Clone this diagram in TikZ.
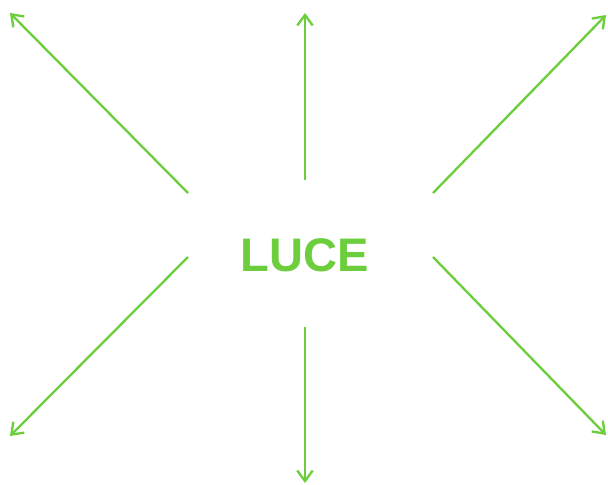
\documentclass[tikz,border=0pt]{standalone}
\usepackage{fontspec}
\setmainfont{Liberation Sans}
\usepackage{xcolor}
\usetikzlibrary{arrows.meta,positioning}
\definecolor{lucegreen}{RGB}{108,206,60}

\begin{document}
\begin{tikzpicture}[
    x=0.5mm,
    y=-0.5mm,
    ray/.style={
        draw=lucegreen,
        line width=3.3pt,
        -{Straight Barb[length=15pt,width=22pt,line width=3.3pt]}
    },
    title/.style={
        text=lucegreen,
        font=\fontsize{67}{78}\selectfont\bfseries,
        inner sep=0pt
    }
]
\useasboundingbox (0,0) rectangle (608,484);

% central word
\node[title] (luce) at (305,255) {LUCE};

% start points round the word
\coordinate (sUL) at (188,193);
\coordinate (sU)  at (305,180);
\coordinate (sUR) at (433,193);
\coordinate (sDL) at (188,257);
\coordinate (sD)  at (305,327);
\coordinate (sDR) at (433,257);

% free ends
\coordinate (eUL) at (10,13);
\coordinate (eU)  at (305,13);
\coordinate (eUR) at (606,15);
\coordinate (eDL) at (10,436);
\coordinate (eD)  at (305,483);
\coordinate (eDR) at (606,435);

\draw[ray] (sUL) -- (eUL);
\draw[ray] (sU) -- (eU);
\draw[ray] (sUR) -- (eUR);
\draw[ray] (sDL) -- (eDL);
\draw[ray] (sD) -- (eD);
\draw[ray] (sDR) -- (eDR);

\end{tikzpicture}
\end{document}
